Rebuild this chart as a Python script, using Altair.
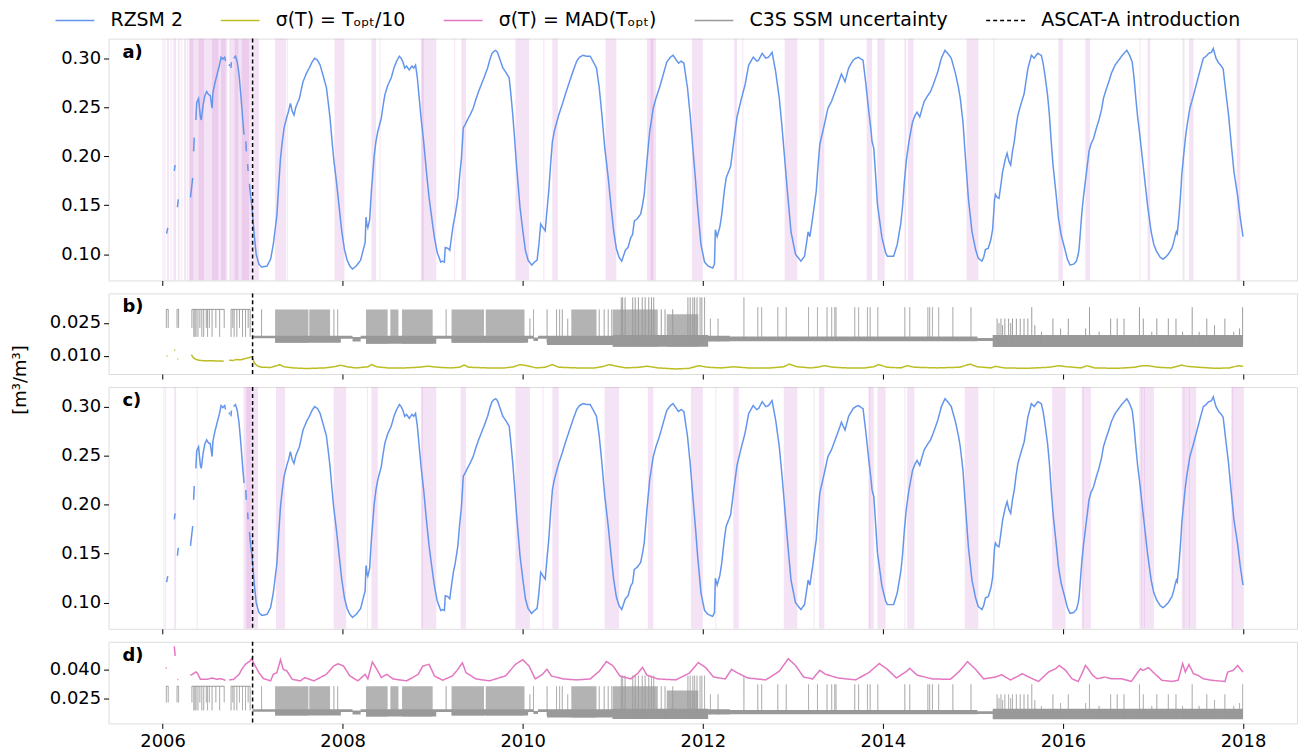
import altair as alt
import pandas as pd

FONT = "DejaVu Sans"

# ---------------- data ----------------
SERIES = ["RZSM 2", "σ(T) = Tₒₚₜ/10", "σ(T) = MAD(Tₒₚₜ)", "C3S SSM uncertainty", "ASCAT-A introduction"]
COLORS = ["#6495ed", "#bcbd22", "#e377c2", "#999999", "#000000"]
DASHES = [[1, 0], [1, 0], [1, 0], [1, 0], [4, 3]]

ascat_t = [2007.0]

rzsm_t = [2006.045, 2006.058, 2006.06, 2006.13, 2006.14, 2006.15, 2006.165, 2006.175, 2006.2,
          2006.31, 2006.325, 2006.335, 2006.34, 2006.345, 2006.352, 2006.36,
          2006.37, 2006.38, 2006.40, 2006.42, 2006.43, 2006.45, 2006.47, 2006.49, 2006.51, 2006.53, 2006.55,
          2006.56, 2006.58, 2006.61, 2006.63, 2006.65, 2006.67, 2006.69, 2006.70, 2006.72,
          2006.74, 2006.745, 2006.75, 2006.76, 2006.765, 2006.78,
          2006.79, 2006.81, 2006.83, 2006.85, 2006.87, 2006.89, 2006.905, 2006.915,
          2006.925, 2006.93, 2006.94, 2006.945, 2006.95, 2006.96,
          2006.965, 2006.975, 2006.99, 2007.0, 2007.02, 2007.04, 2007.07, 2007.10, 2007.16,
          2007.20, 2007.23, 2007.25, 2007.27, 2007.29, 2007.31, 2007.33, 2007.35, 2007.38, 2007.40, 2007.42,
          2007.44, 2007.46, 2007.48, 2007.52, 2007.56, 2007.60, 2007.63, 2007.66, 2007.69, 2007.72, 2007.75,
          2007.79, 2007.82, 2007.84, 2007.86, 2007.88, 2007.90, 2007.93, 2007.95, 2007.99, 2008.02, 2008.05,
          2008.08, 2008.11, 2008.15, 2008.20, 2008.23, 2008.25, 2008.26, 2008.27, 2008.28, 2008.30, 2008.32,
          2008.35, 2008.37, 2008.39, 2008.41, 2008.43, 2008.45, 2008.47, 2008.50, 2008.54, 2008.57, 2008.60,
          2008.63, 2008.65, 2008.67, 2008.69, 2008.71, 2008.74, 2008.77, 2008.79, 2008.81, 2008.83, 2008.85,
          2008.87, 2008.90, 2008.93, 2008.96, 2009.00, 2009.02, 2009.05, 2009.09, 2009.11, 2009.13, 2009.14,
          2009.17, 2009.19, 2009.21, 2009.23, 2009.25, 2009.28, 2009.30, 2009.32, 2009.34, 2009.36, 2009.38,
          2009.42, 2009.45, 2009.48, 2009.51, 2009.54, 2009.57, 2009.61, 2009.64, 2009.66, 2009.68, 2009.70,
          2009.72, 2009.75, 2009.78, 2009.81, 2009.85, 2009.87, 2009.89, 2009.91, 2009.93, 2009.95, 2009.97,
          2010.00, 2010.03, 2010.06, 2010.10, 2010.13, 2010.16, 2010.18, 2010.20, 2010.22, 2010.25, 2010.27,
          2010.29, 2010.31, 2010.33, 2010.35, 2010.37, 2010.40, 2010.44, 2010.48, 2010.52, 2010.56, 2010.60,
          2010.63, 2010.67, 2010.71, 2010.75, 2010.78, 2010.82, 2010.85, 2010.88, 2010.91, 2010.95, 2010.98,
          2011.01, 2011.04, 2011.07, 2011.10, 2011.14, 2011.17, 2011.20, 2011.22, 2011.24, 2011.27, 2011.31,
          2011.33, 2011.35, 2011.38, 2011.41, 2011.45, 2011.48, 2011.52, 2011.56, 2011.60, 2011.64, 2011.67,
          2011.70, 2011.73, 2011.76, 2011.79, 2011.83, 2011.86, 2011.89, 2011.92, 2011.94, 2011.98, 2012.02,
          2012.06, 2012.11, 2012.13, 2012.14, 2012.16, 2012.19, 2012.21, 2012.24, 2012.26, 2012.29, 2012.31,
          2012.34, 2012.38, 2012.43, 2012.47, 2012.51, 2012.56, 2012.60, 2012.62, 2012.66, 2012.70, 2012.73,
          2012.77, 2012.79, 2012.81, 2012.85, 2012.88, 2012.90, 2012.94, 2012.98, 2013.03, 2013.09, 2013.13,
          2013.15, 2013.17, 2013.19, 2013.22, 2013.26, 2013.28, 2013.30, 2013.35, 2013.39, 2013.43, 2013.47,
          2013.51, 2013.54, 2013.56, 2013.58, 2013.62, 2013.67, 2013.70, 2013.73, 2013.76, 2013.78, 2013.81,
          2013.84, 2013.87, 2013.88, 2013.90, 2013.92, 2013.94, 2013.99, 2014.03, 2014.05, 2014.12, 2014.16,
          2014.20, 2014.22, 2014.24, 2014.26, 2014.29, 2014.33, 2014.36, 2014.38, 2014.41, 2014.44, 2014.46,
          2014.50, 2014.53, 2014.56, 2014.61, 2014.65, 2014.69, 2014.72, 2014.76, 2014.79, 2014.81, 2014.84,
          2014.86, 2014.89, 2014.91, 2014.95, 2014.99, 2015.03, 2015.06, 2015.10, 2015.12, 2015.14, 2015.17,
          2015.20, 2015.22, 2015.24, 2015.25, 2015.27, 2015.29, 2015.31, 2015.33, 2015.36, 2015.38, 2015.40,
          2015.42, 2015.44, 2015.46, 2015.48, 2015.50, 2015.54, 2015.57, 2015.61, 2015.65, 2015.68, 2015.72,
          2015.76, 2015.78, 2015.80, 2015.83, 2015.85, 2015.87, 2015.89, 2015.92, 2015.95, 2015.98, 2016.02,
          2016.05, 2016.08, 2016.12, 2016.15, 2016.17, 2016.18, 2016.20, 2016.21, 2016.23, 2016.25, 2016.27,
          2016.29, 2016.31, 2016.34, 2016.37, 2016.40, 2016.43, 2016.45, 2016.48, 2016.51, 2016.54, 2016.58,
          2016.62, 2016.66, 2016.71, 2016.74, 2016.77, 2016.79, 2016.81, 2016.83, 2016.85, 2016.88, 2016.91,
          2016.94, 2016.98, 2017.01, 2017.04, 2017.08, 2017.11, 2017.14, 2017.17, 2017.21, 2017.23, 2017.25,
          2017.26, 2017.27, 2017.29, 2017.31, 2017.32, 2017.34, 2017.36, 2017.38, 2017.41, 2017.45, 2017.49,
          2017.53, 2017.56, 2017.59, 2017.62, 2017.65, 2017.67, 2017.70, 2017.73, 2017.76, 2017.78, 2017.81,
          2017.84, 2017.87, 2017.90, 2017.94, 2017.97, 2018.00]
rzsm_v = [0.121, 0.127, None, 0.185, 0.191, None, 0.148, 0.156, None,
          0.158, 0.170, 0.178, None, 0.205, 0.219, None,
          0.237, 0.255, 0.259, 0.240, 0.237, 0.252, 0.262, 0.266, 0.263, 0.262, 0.249,
          0.265, 0.274, 0.285, 0.292, 0.301, 0.299, 0.301, 0.297, None,
          0.292, 0.294, None, 0.290, 0.296, None,
          0.300, 0.302, 0.296, 0.283, 0.262, 0.238, 0.222, None,
          0.215, 0.205, None, 0.192, 0.185, None,
          0.172, 0.162, 0.150, 0.140, 0.118, 0.100, 0.090, 0.087, 0.088,
          0.095, 0.110, 0.125, 0.140, 0.170, 0.198, 0.215, 0.229, 0.240, 0.246, 0.254,
          0.246, 0.242, 0.250, 0.259, 0.276, 0.285, 0.290, 0.296, 0.300, 0.298, 0.293,
          0.280, 0.270, 0.255, 0.239, 0.218, 0.198, 0.175, 0.158, 0.124, 0.105, 0.094,
          0.088, 0.085, 0.088, 0.094, 0.105, 0.112, 0.138, 0.130, 0.127, 0.135, 0.165,
          0.200, 0.215, 0.225, 0.232, 0.239, 0.252, 0.263, 0.272, 0.280, 0.290, 0.297,
          0.302, 0.300, 0.296, 0.290, 0.292, 0.288, 0.292, 0.290, 0.293, 0.280, 0.260,
          0.240, 0.215, 0.185, 0.158, 0.130, 0.117, 0.102, 0.092, 0.093, 0.092, 0.107,
          0.106, 0.104, 0.118, 0.131, 0.140, 0.158, 0.180, 0.198, 0.229, 0.232, 0.236,
          0.243, 0.249, 0.258, 0.266, 0.273, 0.280, 0.290, 0.300, 0.305, 0.307, 0.308,
          0.306, 0.298, 0.290, 0.286, 0.280, 0.262, 0.242, 0.218, 0.192, 0.170, 0.148,
          0.125, 0.104, 0.094, 0.089, 0.092, 0.094, 0.110, 0.131, 0.128, 0.124, 0.145,
          0.165, 0.192, 0.215, 0.225, 0.232, 0.242, 0.253, 0.265, 0.276, 0.287, 0.297,
          0.301, 0.303, 0.302, 0.302, 0.297, 0.290, 0.270, 0.242, 0.210, 0.178, 0.150,
          0.124, 0.106, 0.097, 0.093, 0.104, 0.107, 0.117, 0.120, 0.134, 0.136, 0.141,
          0.150, 0.161, 0.195, 0.225, 0.249, 0.259, 0.270, 0.283, 0.296, 0.301, 0.303,
          0.299, 0.295, 0.297, 0.295, 0.270, 0.242, 0.208, 0.175, 0.151, 0.110, 0.092,
          0.088, 0.086, 0.090, 0.125, 0.118, 0.128, 0.140, 0.165, 0.178, 0.185, 0.190,
          0.212, 0.240, 0.259, 0.273, 0.293, 0.301, 0.297, 0.298, 0.305, 0.300, 0.301,
          0.306, 0.296, 0.286, 0.259, 0.230, 0.208, 0.164, 0.123, 0.100, 0.093, 0.098,
          0.110, 0.123, 0.118, 0.137, 0.164, 0.190, 0.212, 0.232, 0.249, 0.256, 0.266,
          0.276, 0.284, 0.280, 0.276, 0.290, 0.298, 0.300, 0.301, 0.299, 0.298, 0.275,
          0.249, 0.225, 0.215, 0.208, 0.180, 0.151, 0.117, 0.102, 0.098, 0.098, 0.110,
          0.132, 0.150, 0.175, 0.195, 0.215, 0.235, 0.242, 0.245, 0.240, 0.250, 0.256,
          0.262, 0.266, 0.273, 0.286, 0.300, 0.308, 0.305, 0.300, 0.290, 0.283, 0.270,
          0.259, 0.235, 0.208, 0.157, 0.123, 0.105, 0.096, 0.093, 0.097, 0.105, 0.106,
          0.115, 0.126, 0.155, 0.161, 0.158, 0.157, 0.170, 0.184, 0.197, 0.203, 0.195,
          0.191, 0.205, 0.215, 0.230, 0.242, 0.255, 0.264, 0.289, 0.303, 0.300, 0.305,
          0.303, 0.295, 0.283, 0.262, 0.242, 0.215, 0.191, 0.165, 0.137, 0.120, 0.106,
          0.095, 0.089, 0.090, 0.093, 0.100, 0.106, 0.130, 0.142, 0.160, 0.175, 0.190,
          0.205, 0.212, 0.218, 0.228, 0.237, 0.248, 0.259, 0.268, 0.276, 0.285, 0.293,
          0.298, 0.303, 0.308, 0.303, 0.296, 0.280, 0.259, 0.240, 0.225, 0.200, 0.175,
          0.150, 0.123, 0.110, 0.103, 0.097, 0.095, 0.097, 0.100, 0.106, 0.112, 0.120,
          0.123, 0.121, 0.140, 0.165, 0.181, 0.200, 0.218, 0.232, 0.249, 0.262, 0.276,
          0.290, 0.300, 0.302, 0.305, 0.306, 0.310, 0.300, 0.295, 0.292, 0.289, 0.265,
          0.242, 0.212, 0.184, 0.160, 0.137, 0.118]

# shaded periods, panel a
span_a_start = [2006.00, 2006.02, 2006.05, 2006.09, 2006.12, 2006.17, 2006.21, 2006.24, 2006.27, 2006.29,
                2006.30, 2006.40, 2006.55, 2006.65, 2006.74, 2006.80, 2006.88, 2007.00, 2007.25, 2007.38,
                2007.91, 2008.32, 2008.41, 2008.87, 2008.88, 2009.24, 2009.32, 2009.92, 2010.23, 2010.33,
                2010.92, 2011.38, 2011.42, 2011.88, 2012.35, 2012.44, 2012.91, 2013.29, 2013.82, 2013.94,
                2014.24, 2014.28, 2014.93, 2015.23, 2015.95, 2016.25, 2016.85, 2016.94, 2017.33, 2017.40,
                2017.93]
span_a_end = [2006.01, 2006.03, 2006.07, 2006.10, 2006.15, 2006.19, 2006.22, 2006.26, 2006.28, 2006.70,
              2006.34, 2006.46, 2006.62, 2006.72, 2006.99, 2006.84, 2006.96, 2007.07, 2007.37, 2007.39,
              2008.02, 2008.37, 2008.42, 2009.04, 2008.90, 2009.25, 2009.37, 2010.07, 2010.24, 2010.39,
              2011.04, 2011.48, 2011.45, 2012.00, 2012.38, 2012.45, 2013.05, 2013.35, 2013.88, 2014.02,
              2014.26, 2014.34, 2015.06, 2015.24, 2016.00, 2016.30, 2016.86, 2016.97, 2017.35, 2017.45,
              2017.97]

# shaded periods, panel c
span_c_start = [2006.01, 2006.03, 2006.13, 2006.38, 2006.90, 2006.93, 2007.26, 2007.90, 2008.27, 2008.32,
                2008.87, 2008.88, 2009.31, 2009.92, 2010.22, 2010.33, 2010.91, 2011.39, 2011.87, 2012.14,
                2012.34, 2012.90, 2013.23, 2013.29, 2013.84, 2013.85, 2013.94, 2014.24, 2014.27, 2014.91,
                2015.23, 2015.88, 2016.21, 2016.22, 2016.85, 2016.87, 2016.90, 2017.32, 2017.34, 2017.40,
                2017.87, 2017.88]
span_c_end = [2006.02, 2006.04, 2006.15, 2006.39, 2007.06, 2006.98, 2007.36, 2008.04, 2008.28, 2008.39,
              2009.04, 2008.89, 2009.37, 2010.08, 2010.23, 2010.40, 2011.07, 2011.45, 2012.00, 2012.15,
              2012.40, 2013.05, 2013.24, 2013.35, 2013.90, 2013.86, 2014.03, 2014.25, 2014.35, 2015.06,
              2015.24, 2016.03, 2016.31, 2016.23, 2017.01, 2016.88, 2016.91, 2017.48, 2017.35, 2017.41,
              2018.01, 2017.89]

# sigma(T) = T_opt/10 (panel b)
sig_t = [2006.045, 2006.055, 2006.06, 2006.13, 2006.14, 2006.15, 2006.165, 2006.175, 2006.2,
         2006.32, 2006.34, 2006.36, 2006.40, 2006.45, 2006.50, 2006.55, 2006.60, 2006.65, 2006.68, 2006.71,
         2006.74, 2006.78, 2006.82, 2006.87, 2006.92, 2006.96, 2006.99, 2007.01, 2007.03, 2007.06,
         2007.10, 2007.20, 2007.27, 2007.30, 2007.35, 2007.45, 2007.60, 2007.80, 2007.90, 2007.98,
         2008.05, 2008.15, 2008.28, 2008.32, 2008.38, 2008.50, 2008.70, 2008.85, 2008.95, 2009.05,
         2009.20, 2009.30, 2009.35, 2009.40, 2009.60, 2009.80, 2009.90, 2009.97, 2010.05, 2010.15,
         2010.25, 2010.33, 2010.40, 2010.60, 2010.80, 2010.90, 2010.96, 2011.05, 2011.15, 2011.30,
         2011.38, 2011.50, 2011.70, 2011.85, 2011.96, 2012.05, 2012.20, 2012.35, 2012.50, 2012.75,
         2012.90, 2012.96, 2013.05, 2013.20, 2013.30, 2013.35, 2013.45, 2013.60, 2013.80, 2013.90,
         2013.95, 2014.05, 2014.20, 2014.27, 2014.35, 2014.60, 2014.85, 2014.97, 2015.05, 2015.20,
         2015.25, 2015.35, 2015.60, 2015.85, 2015.95, 2016.05, 2016.20, 2016.27, 2016.35, 2016.60,
         2016.80, 2016.88, 2016.95, 2017.05, 2017.20, 2017.32, 2017.38, 2017.50, 2017.70, 2017.85,
         2017.95, 2018.00]
sig_v = [0.0100, 0.0099, None, 0.0127, 0.0125, None, 0.0086, 0.0085, None,
         0.0105, 0.0092, 0.0086, 0.0080, 0.0078, 0.0077, 0.0078, 0.0076, 0.0077, 0.0075, None,
         0.0080, 0.0079, 0.0083, 0.0082, 0.0088, 0.0091, 0.0096, 0.0078, 0.0062, 0.0053,
         0.0048, 0.0047, 0.0055, 0.0060, 0.0050, 0.0045, 0.0042, 0.0045, 0.0050, 0.0057,
         0.0050, 0.0045, 0.0050, 0.0060, 0.0050, 0.0045, 0.0045, 0.0048, 0.0053, 0.0048,
         0.0045, 0.0048, 0.0058, 0.0048, 0.0045, 0.0045, 0.0050, 0.0060, 0.0055, 0.0045,
         0.0048, 0.0060, 0.0048, 0.0045, 0.0045, 0.0052, 0.0060, 0.0052, 0.0045, 0.0048,
         0.0053, 0.0045, 0.0040, 0.0043, 0.0055, 0.0048, 0.0045, 0.0050, 0.0045, 0.0045,
         0.0050, 0.0062, 0.0050, 0.0045, 0.0050, 0.0055, 0.0048, 0.0045, 0.0045, 0.0050,
         0.0060, 0.0048, 0.0045, 0.0055, 0.0048, 0.0045, 0.0048, 0.0062, 0.0050, 0.0045,
         0.0052, 0.0045, 0.0043, 0.0048, 0.0055, 0.0050, 0.0045, 0.0055, 0.0045, 0.0043,
         0.0048, 0.0055, 0.0055, 0.0048, 0.0045, 0.0058, 0.0052, 0.0048, 0.0043, 0.0045,
         0.0055, 0.0052]

# sigma(T) = MAD(T_opt) (panel d)
mad_t = [2006.035, 2006.045, 2006.05, 2006.13, 2006.14, 2006.15, 2006.165, 2006.175, 2006.2,
         2006.31, 2006.33, 2006.37, 2006.39, 2006.42, 2006.50, 2006.55, 2006.61, 2006.64, 2006.70, 2006.72,
         2006.74, 2006.79, 2006.85, 2006.88, 2006.92, 2006.97, 2006.99, 2007.01, 2007.07, 2007.12,
         2007.20, 2007.23, 2007.27, 2007.31, 2007.34, 2007.38, 2007.44, 2007.53, 2007.58, 2007.68,
         2007.82, 2007.90, 2007.95, 2008.01, 2008.08, 2008.17, 2008.25, 2008.28, 2008.33, 2008.38,
         2008.43, 2008.49, 2008.56, 2008.71, 2008.84, 2008.89, 2008.96, 2009.02, 2009.11, 2009.22,
         2009.28, 2009.33, 2009.37, 2009.48, 2009.63, 2009.81, 2009.92, 2010.00, 2010.07, 2010.14,
         2010.22, 2010.27, 2010.32, 2010.45, 2010.60, 2010.75, 2010.85, 2010.93, 2011.00, 2011.08,
         2011.20, 2011.28, 2011.33, 2011.38, 2011.50, 2011.70, 2011.85, 2011.95, 2012.03, 2012.12,
         2012.25, 2012.32, 2012.37, 2012.50, 2012.70, 2012.85, 2012.95, 2013.03, 2013.12, 2013.22,
         2013.30, 2013.36, 2013.50, 2013.70, 2013.85, 2013.96, 2014.05, 2014.15, 2014.25, 2014.30,
         2014.38, 2014.55, 2014.75, 2014.85, 2014.94, 2015.03, 2015.12, 2015.25, 2015.32, 2015.36,
         2015.42, 2015.49, 2015.55, 2015.62, 2015.73, 2015.84, 2015.92, 2015.96, 2016.03, 2016.10,
         2016.17, 2016.22, 2016.25, 2016.28, 2016.33, 2016.38, 2016.47, 2016.54, 2016.65, 2016.76,
         2016.82, 2016.86, 2016.89, 2016.95, 2017.02, 2017.10, 2017.21, 2017.28, 2017.33, 2017.36,
         2017.40, 2017.45, 2017.50, 2017.56, 2017.65, 2017.80, 2017.83, 2017.89, 2017.94, 2018.00]
mad_v = [0.0409, 0.0405, None, 0.0520, 0.0470, None, 0.0348, 0.0346, None,
         0.0369, 0.0374, 0.0386, 0.0378, 0.0348, 0.0348, 0.0355, 0.0348, 0.0352, 0.0343, None,
         0.0345, 0.0348, 0.0374, 0.0400, 0.0426, 0.0443, 0.0455, 0.0434, 0.0383, 0.0352,
         0.0340, 0.0374, 0.0383, 0.0450, 0.0400, 0.0392, 0.0348, 0.0340, 0.0357, 0.0340,
         0.0374, 0.0417, 0.0429, 0.0417, 0.0366, 0.0340, 0.0374, 0.0350, 0.0438, 0.0400,
         0.0357, 0.0374, 0.0350, 0.0340, 0.0374, 0.0417, 0.0426, 0.0366, 0.0343, 0.0366,
         0.0400, 0.0434, 0.0383, 0.0350, 0.0340, 0.0366, 0.0426, 0.0450, 0.0417, 0.0350,
         0.0374, 0.0400, 0.0365, 0.0350, 0.0345, 0.0350, 0.0390, 0.0440, 0.0420, 0.0365,
         0.0350, 0.0380, 0.0410, 0.0370, 0.0350, 0.0345, 0.0380, 0.0435, 0.0410, 0.0360,
         0.0350, 0.0400, 0.0385, 0.0355, 0.0345, 0.0390, 0.0455, 0.0420, 0.0360, 0.0350,
         0.0395, 0.0375, 0.0355, 0.0345, 0.0385, 0.0430, 0.0400, 0.0355, 0.0385, 0.0405,
         0.0370, 0.0350, 0.0348, 0.0390, 0.0440, 0.0400, 0.0350, 0.0360, 0.0372, 0.0360,
         0.0345, 0.0362, 0.0377, 0.0360, 0.0337, 0.0386, 0.0403, 0.0420, 0.0395, 0.0351,
         0.0337, 0.0386, 0.0420, 0.0403, 0.0369, 0.0351, 0.0360, 0.0351, 0.0351, 0.0337,
         0.0377, 0.0403, 0.0394, 0.0409, 0.0377, 0.0343, 0.0337, 0.0343, 0.0430, 0.0386,
         0.0425, 0.0377, 0.0369, 0.0351, 0.0343, 0.0337, 0.0386, 0.0394, 0.0420, 0.0386]

# C3S SSM uncertainty: floor band (step), dense spike blocks, single spikes
band_t = [2007.0, 2007.25, 2007.98, 2008.11, 2008.20, 2008.26, 2009.04, 2009.21, 2010.06, 2010.12,
          2010.17, 2010.27, 2011.0, 2012.06, 2012.3, 2015.05, 2015.22, 2018.0]
band_lo = [0.0180, 0.0160, 0.0178, 0.0165, 0.0178, 0.0155, 0.0178, 0.0160, 0.0178, 0.0168,
           0.0178, 0.0150, 0.0142, 0.0165, 0.0167, 0.0168, 0.0140, 0.0140]
band_hi = [0.0192, 0.0192, 0.0192, 0.0186, 0.0192, 0.0192, 0.0192, 0.0192, 0.0192, 0.0184,
           0.0192, 0.0192, 0.0195, 0.0192, 0.0188, 0.0182, 0.0195, 0.0195]

top_t0 = [2006.040, 2006.160, 2006.325, 2006.760]
top_t1 = [2006.064, 2006.179, 2006.686, 2006.974]
top_v = [0.0312, 0.0312, 0.0312, 0.0312]

dense_t0 = [2007.25, 2007.63, 2008.26, 2008.53, 2008.66, 2009.21, 2009.59, 2010.54, 2011.00, 2011.60]
dense_t1 = [2007.62, 2007.86, 2008.50, 2008.62, 2009.00, 2009.57, 2010.02, 2010.82, 2011.50, 2011.95]
dense_lo = [0.0160, 0.0165, 0.0155, 0.0160, 0.0155, 0.0160, 0.0160, 0.0150, 0.0142, 0.0142]
dense_hi = [0.0312, 0.0312, 0.0312, 0.0312, 0.0312, 0.0312, 0.0312, 0.0312, 0.0312, 0.0290]

spike_t = [2006.042, 2006.063, 2006.161, 2006.178, 2006.326, 2006.347, 2006.360, 2006.372, 2006.393,
           2006.414, 2006.436, 2006.457, 2006.486, 2006.500, 2006.520, 2006.550, 2006.592, 2006.634,
           2006.685, 2006.761, 2006.780, 2006.795, 2006.825, 2006.854, 2006.888, 2006.922, 2006.951,
           2006.973,
           2007.10, 2007.903, 2007.945, 2009.15, 2010.08, 2010.12, 2010.271, 2010.376, 2010.41, 2010.44,
           2010.50, 2010.85, 2010.905, 2010.95, 2010.989, 2011.095, 2011.11, 2011.137, 2011.222, 2011.25,
           2011.285, 2011.328, 2011.36, 2011.40, 2011.43, 2011.455, 2011.539, 2011.581, 2011.666,
           2011.835, 2011.86, 2011.89, 2011.91, 2011.936, 2011.97, 2011.99, 2012.02, 2012.085, 2012.17,
           2012.457, 2012.611, 2012.654, 2012.833, 2012.927, 2013.175, 2013.274, 2013.38, 2013.432,
           2013.466, 2013.48, 2013.688, 2013.731, 2013.829, 2013.859, 2013.944, 2014.244, 2014.299,
           2014.50, 2014.52, 2014.551, 2014.62, 2014.778, 2014.979,
           2015.269, 2015.29, 2015.312, 2015.33, 2015.355, 2015.397, 2015.42, 2015.44, 2015.483,
           2015.526, 2015.568, 2015.611, 2015.654, 2015.688, 2015.761, 2015.889, 2015.974, 2016.06,
           2016.252, 2016.295, 2016.402, 2016.53, 2016.603, 2016.679, 2016.85, 2016.893, 2016.987,
           2017.043, 2017.171, 2017.256, 2017.329, 2017.436, 2017.513, 2017.598, 2017.684, 2017.799,
           2017.897, 2017.962, 2017.996]
spike_lo = [0.0228, 0.0228, 0.0228, 0.0228, 0.0228, 0.0187, 0.0187, 0.0187, 0.0187,
            0.0228, 0.0187, 0.0187, 0.0228, 0.0187, 0.0228, 0.0187, 0.0228, 0.0187,
            0.0228, 0.0187, 0.0228, 0.0187, 0.0187, 0.0228, 0.0187, 0.0187, 0.0228,
            0.0187,
            0.0187, 0.0170, 0.0170, 0.0180, 0.0180, 0.0180, 0.0160, 0.0160, 0.0160, 0.0160,
            0.0160, 0.0160, 0.0160, 0.0160, 0.0160, 0.0150, 0.0150, 0.0150, 0.0150, 0.0150,
            0.0150, 0.0150, 0.0150, 0.0150, 0.0150, 0.0150, 0.0150, 0.0150, 0.0150,
            0.0150, 0.0150, 0.0150, 0.0150, 0.0150, 0.0155, 0.0155, 0.0160, 0.0165, 0.0165,
            0.0170, 0.0170, 0.0170, 0.0170, 0.0170, 0.0170, 0.0170, 0.0170, 0.0170,
            0.0170, 0.0170, 0.0170, 0.0170, 0.0170, 0.0170, 0.0170, 0.0170, 0.0170,
            0.0170, 0.0170, 0.0170, 0.0170, 0.0170, 0.0170,
            0.0150, 0.0150, 0.0150, 0.0150, 0.0150, 0.0150, 0.0150, 0.0150, 0.0150,
            0.0150, 0.0150, 0.0150, 0.0150, 0.0150, 0.0150, 0.0150, 0.0150, 0.0150,
            0.0150, 0.0150, 0.0150, 0.0150, 0.0150, 0.0150, 0.0150, 0.0150, 0.0150,
            0.0150, 0.0150, 0.0150, 0.0150, 0.0150, 0.0150, 0.0150, 0.0150, 0.0150,
            0.0150, 0.0150, 0.0150]
spike_hi = [0.0312, 0.0312, 0.0312, 0.0312, 0.0312, 0.0312, 0.0312, 0.0312, 0.0312,
            0.0312, 0.0312, 0.0312, 0.0312, 0.0312, 0.0312, 0.0312, 0.0312, 0.0312,
            0.0312, 0.0312, 0.0312, 0.0312, 0.0312, 0.0312, 0.0312, 0.0312, 0.0312,
            0.0312,
            0.0312, 0.0312, 0.0312, 0.0312, 0.0270, 0.0312, 0.0312, 0.0312, 0.0312, 0.0312,
            0.0270, 0.0312, 0.0312, 0.0312, 0.0312, 0.0367, 0.0367, 0.0367, 0.0367, 0.0367,
            0.0367, 0.0367, 0.0367, 0.0367, 0.0367, 0.0367, 0.0312, 0.0312, 0.0312,
            0.0367, 0.0367, 0.0367, 0.0367, 0.0367, 0.0367, 0.0367, 0.0367, 0.0270, 0.0270,
            0.0367, 0.0322, 0.0322, 0.0322, 0.0322, 0.0322, 0.0322, 0.0322, 0.0322,
            0.0322, 0.0322, 0.0322, 0.0322, 0.0322, 0.0322, 0.0322, 0.0322, 0.0322,
            0.0322, 0.0322, 0.0322, 0.0322, 0.0322, 0.0322,
            0.0270, 0.0250, 0.0270, 0.0240, 0.0270, 0.0270, 0.0250, 0.0270, 0.0270,
            0.0270, 0.0270, 0.0270, 0.0322, 0.0240, 0.0210, 0.0270, 0.0225, 0.0270,
            0.0225, 0.0322, 0.0210, 0.0270, 0.0270, 0.0270, 0.0322, 0.0270, 0.0210,
            0.0270, 0.0270, 0.0270, 0.0210, 0.0322, 0.0210, 0.0270, 0.0240, 0.0270,
            0.0210, 0.0225, 0.0322]

# ---------------- frames ----------------
rzsm_df = pd.DataFrame({"t": rzsm_t, "v": rzsm_v, "series": SERIES[0]})
sig_df = pd.DataFrame({"t": sig_t, "v": sig_v, "series": SERIES[1]})
mad_df = pd.DataFrame({"t": mad_t, "v": mad_v, "series": SERIES[2]})
span_a_df = pd.DataFrame({"t0": span_a_start, "t1": span_a_end})
span_c_df = pd.DataFrame({"t0": span_c_start, "t1": span_c_end})
band_df = pd.DataFrame({"t": band_t, "lo": band_lo, "hi": band_hi})
top_df = pd.DataFrame({"t0": top_t0, "t1": top_t1, "v": top_v})
dense_df = pd.DataFrame({"t0": dense_t0, "t1": dense_t1, "lo": dense_lo, "hi": dense_hi})
spike_df = pd.DataFrame({"t": spike_t, "lo": spike_lo, "hi": spike_hi, "series": SERIES[3]})
ascat_df = pd.DataFrame({"t": ascat_t, "series": SERIES[4]})

# ---------------- styling ----------------
W = 1194
H_A, H_B, H_C, H_D = 243, 81, 243, 82
X_DOMAIN = [2005.4, 2018.6]
SPAN_COLOR = "#d48ad8"
GREY = "#999999"

legend = alt.Legend(
    orient="none", legendX=-54, legendY=-29, direction="horizontal", columns=5,
    title=None, symbolType="M-1,0H3", symbolSize=380, symbolStrokeWidth=1.5,
    labelFontSize=19, labelFont=FONT, labelColor="black", labelOffset=35, columnPadding=34,
    padding=0, labelLimit=500,
)
color_enc = alt.Color("series:N", scale=alt.Scale(domain=SERIES, range=COLORS), legend=legend)
dash_enc = alt.StrokeDash("series:N", scale=alt.Scale(domain=SERIES, range=DASHES), legend=legend)


def xenc(field, labels):
    return alt.X(
        field, type="quantitative",
        scale=alt.Scale(domain=X_DOMAIN, nice=False, zero=False),
        axis=alt.Axis(values=list(range(2006, 2019, 2)), format="d", labels=labels, grid=False,
                      domain=False, ticks=True, tickSize=5, tickColor="black", labelFontSize=18,
                      labelFont=FONT, labelColor="black", labelPadding=4, title=None),
    )


def yenc(field, domain, values, fmt):
    return alt.Y(
        field, type="quantitative",
        scale=alt.Scale(domain=domain, nice=False, zero=False),
        axis=alt.Axis(values=values, format=fmt, grid=False, domain=False, tickSize=5,
                      tickColor="black", labelFontSize=18, labelFont=FONT, labelColor="black",
                      labelPadding=3, title=None),
    )


def label_layer(txt):
    return alt.Chart(pd.DataFrame({"lab": [txt]})).mark_text(
        align="left", baseline="top", fontSize=18, fontWeight="bold", font=FONT, color="black"
    ).encode(x=alt.value(14), y=alt.value(5), text="lab:N")


def ascat_layer(labels):
    return alt.Chart(ascat_df).mark_rule(strokeWidth=1.5).encode(
        x=xenc("t", labels), color=color_enc, strokeDash=dash_enc)


def grey_layers(ydom, yvals, fmt, labels):
    band = alt.Chart(band_df).mark_area(interpolate="step-after", color=GREY, clip=True).encode(
        x=xenc("t", labels), y=yenc("lo", ydom, yvals, fmt), y2="hi")
    top = alt.Chart(top_df).mark_rule(color=GREY, strokeWidth=1, clip=True).encode(
        x=xenc("t0", labels), x2="t1", y=yenc("v", ydom, yvals, fmt))
    dense = alt.Chart(dense_df).mark_rect(color=GREY, opacity=0.75, clip=True).encode(
        x=xenc("t0", labels), x2="t1", y=yenc("lo", ydom, yvals, fmt), y2="hi")
    spikes = alt.Chart(spike_df).mark_rule(strokeWidth=1, clip=True).encode(
        x=xenc("t", labels), y=yenc("lo", ydom, yvals, fmt), y2="hi",
        color=color_enc, strokeDash=dash_enc)
    return [band, top, dense, spikes]


def rzsm_panel(span_df, txt, h):
    ydom = [0.0733, 0.32]
    yvals = [0.10, 0.15, 0.20, 0.25, 0.30]
    spans = alt.Chart(span_df).mark_rect(color=SPAN_COLOR, opacity=0.25, clip=True).encode(
        x=xenc("t0", False), x2="t1", y=alt.value(0), y2=alt.value(h))
    line = alt.Chart(rzsm_df).mark_line(strokeWidth=1.5, clip=True).encode(
        x=xenc("t", False), y=yenc("v", ydom, yvals, ".2f"), color=color_enc, strokeDash=dash_enc)
    return alt.layer(spans, line, ascat_layer(False), label_layer(txt)).properties(width=W, height=h)


panel_a = rzsm_panel(span_a_df, "a)", H_A)
panel_c = rzsm_panel(span_c_df, "c)", H_C)

b_dom, b_vals = [0.0017, 0.0385], [0.010, 0.025]
sig_line = alt.Chart(sig_df).mark_line(strokeWidth=1.5, clip=True).encode(
    x=xenc("t", False), y=yenc("v", b_dom, b_vals, ".3f"), color=color_enc, strokeDash=dash_enc)
ytitle = alt.Chart(pd.DataFrame({"lab": ["[m³/m³]"]})).mark_text(
    angle=270, fontSize=18, font=FONT, color="black", align="center", baseline="middle"
).encode(x=alt.value(-88), y=alt.value(87), text="lab:N")
panel_b = alt.layer(*grey_layers(b_dom, b_vals, ".3f", False), sig_line, ascat_layer(False),
                    label_layer("b)"), ytitle).properties(width=W, height=H_B)

d_dom, d_vals = [0.0119, 0.0543], [0.025, 0.040]
mad_line = alt.Chart(mad_df).mark_line(strokeWidth=1.5, clip=True).encode(
    x=xenc("t", True), y=yenc("v", d_dom, d_vals, ".3f"), color=color_enc, strokeDash=dash_enc)
panel_d = alt.layer(*grey_layers(d_dom, d_vals, ".3f", True), mad_line, ascat_layer(True),
                    label_layer("d)")).properties(width=W, height=H_D)

chart = alt.vconcat(panel_a, panel_b, panel_c, panel_d, spacing=13, bounds="flush").resolve_scale(
    x="shared", y="independent", color="shared", strokeDash="shared"
).properties(
    padding={"left": 3, "top": 0, "right": 0, "bottom": 0}
).configure_view(stroke="#333333", strokeWidth=1).configure(background="white")

chart.save("out.html", embed_options={"renderer": "svg", "actions": False})
